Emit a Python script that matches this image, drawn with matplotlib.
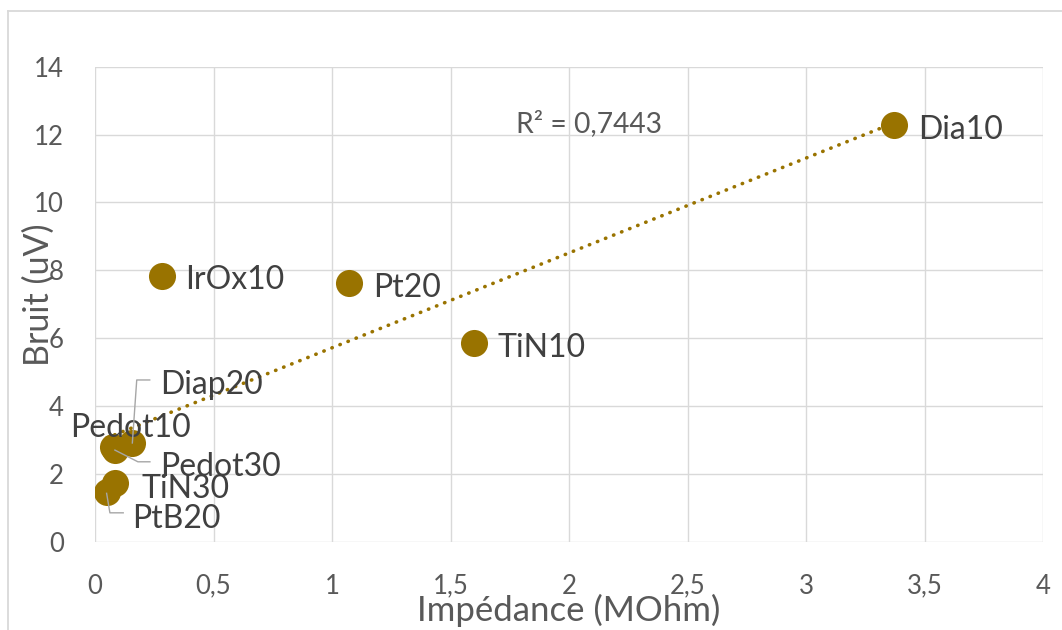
import matplotlib
matplotlib.use("Agg")
import matplotlib.pyplot as plt
import numpy as np
from matplotlib.ticker import FuncFormatter, MultipleLocator
from matplotlib.lines import Line2D
from matplotlib.transforms import IdentityTransform

# ---- data ----
names = ["Dia10", "IrOx10", "Pt20", "TiN10", "Diap20", "Pedot10", "Pedot30", "TiN30", "PtB20"]
impedance = [3.373, 0.281, 1.072, 1.598, 0.155, 0.076, 0.084, 0.084, 0.049]
bruit = [12.28, 7.83, 7.62, 5.87, 2.91, 2.79, 2.70, 1.73, 1.47]
r2_label = "R² = 0,7443"
x_title = "Impédance (MOhm)"
y_title = "Bruit (uV)"

# ---- styles / label placement (pixel offsets) ----
COL = "#997300"
GRID = "#d9d9d9"
TXT = "#595959"
LBL = "#404040"
FONT = "Lato"
label_offsets = {
    "Dia10": (24, -2), "IrOx10": (24, -1), "Pt20": (24, -1.5), "TiN10": (24, -2.5),
    "Diap20": (28, 61), "Pedot10": (-43, 22), "Pedot30": (45, -14),
    "TiN30": (27, -3), "PtB20": (26, -24),
}
leaders = {
    "Diap20": [(0.6, 0), (5, 63), (18, 63)],
    "Pedot30": [(0, 0), (23, -11.7), (35, -11.7)],
    "PtB20": [(0, -1.5), (3.3, -21), (16.6, -21)],
}

plt.rcParams["font.family"] = [FONT, "DejaVu Sans"]

W, H = 1062, 630
fig = plt.figure(figsize=(W / 100, H / 100), dpi=100)
ax = fig.add_axes([95 / W, (H - 541.7) / H, 948 / W, 475 / H])

# outer chart border (top and left visible)
fig.add_artist(Line2D([7.5, W + 5], [H - 11, H - 11], transform=IdentityTransform(),
                      color=GRID, lw=1.3))
fig.add_artist(Line2D([7.5, 7.5], [H - 11, -5], transform=IdentityTransform(),
                      color=GRID, lw=1.3))

ax.set_xlim(0, 4)
ax.set_ylim(0, 14)
ax.xaxis.set_major_locator(MultipleLocator(0.5))
ax.yaxis.set_major_locator(MultipleLocator(2))
fmt = FuncFormatter(lambda v, p: ("%g" % v).replace(".", ","))
ax.xaxis.set_major_formatter(fmt)
ax.yaxis.set_major_formatter(fmt)
for s in ax.spines.values():
    s.set_visible(False)
ax.grid(True, color=GRID, lw=1.0, zorder=0)
ax.set_axisbelow(True)
ax.tick_params(axis="both", length=0, labelsize=18.5, labelcolor=TXT)
ax.tick_params(axis="x", pad=23)
ax.tick_params(axis="y", pad=22.5)

# trendline
xs = np.array(impedance)
ys = np.array(bruit)
m, b = np.polyfit(xs, ys, 1)
xt = np.array([xs.min(), xs.max()])
ax.plot(xt, m * xt + b, color=COL, lw=2.6, linestyle=(0, (0.1, 2.3)),
        dash_capstyle="round", zorder=2)

ax.scatter(xs, ys, s=380, color=COL, linewidths=0, zorder=3)

fig.canvas.draw()
for n, x, y in zip(names, impedance, bruit):
    dx, dy = label_offsets[n]
    ax.annotate(n, (x, y), xytext=(dx, dy), textcoords="offset pixels",
                ha="left", va="center_baseline", fontsize=23, color=LBL, zorder=5)
    if n in leaders:
        px, py = ax.transData.transform((x, y))
        vx = [px + o[0] for o in leaders[n]]
        vy = [py + o[1] for o in leaders[n]]
        fig.add_artist(Line2D(vx, vy, transform=IdentityTransform(), color="#a6a6a6",
                              lw=1.0, zorder=4))

ax.text(1.776, 12.40, r2_label, ha="left", va="center_baseline", fontsize=20.3, color=TXT)

ax.set_xlabel(x_title, fontsize=25, color=TXT, va="center")
ax.xaxis.set_label_coords(0.5, -0.144)
ax.set_ylabel(y_title, fontsize=24.5, color=TXT, va="center")
ax.yaxis.set_label_coords(-0.059, 0.519)

fig.savefig("out.png", dpi=100)
